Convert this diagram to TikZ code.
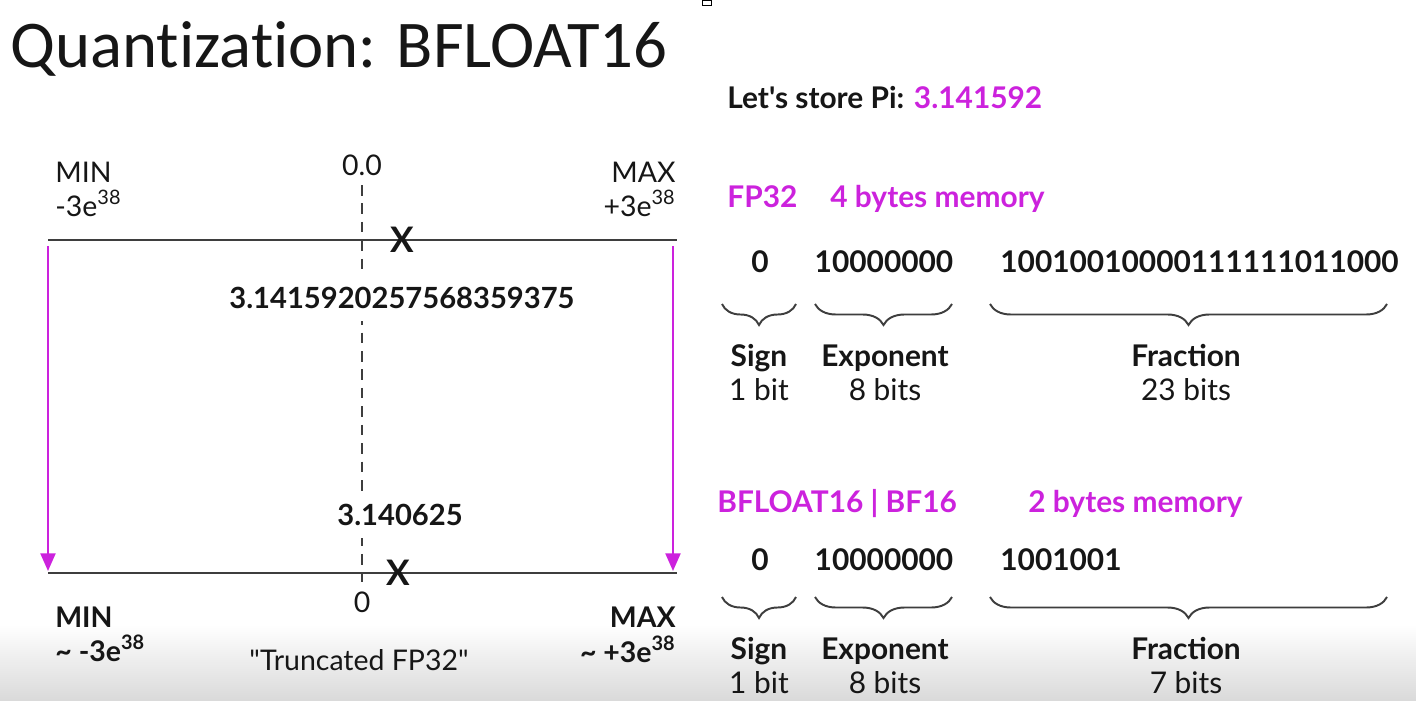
\documentclass[tikz,border=0pt]{standalone}
\usepackage{fontspec}
\setmainfont{Lato}
\newfontfamily\titlefont[Ligatures=NoCommon]{Carlito}
% same face, without the TeX quote mapping, for straight quotes
\newfontfamily\latoplain{Lato}
\usetikzlibrary{decorations.pathreplacing, arrows.meta}
\definecolor{accent}{RGB}{204,34,221}
\definecolor{axisgray}{RGB}{62,62,62}
\definecolor{ink}{RGB}{22,22,22}
\tikzset{
  txt/.style={inner sep=0pt, text=ink},
  lft/.style={txt, font=\fontsize{16.2}{19}\selectfont},
  lftb/.style={txt, font=\fontsize{16.2}{19}\selectfont\bfseries},
  rgt/.style={txt, font=\fontsize{17}{20}\selectfont},
  rgtb/.style={txt, font=\fontsize{17}{20}\selectfont\bfseries},
  hdr/.style={rgtb, text=accent},
  valbox/.style={txt, font=\fontsize{16.6}{19}\selectfont\bfseries, fill=white, inner xsep=2pt, inner ysep=7pt},
  cross/.style={txt, font=\fontsize{20}{23}\selectfont\bfseries},
  axisline/.style={line width=1.4pt, draw=axisgray},
  dropline/.style={line width=1.2pt, draw=accent, -{Triangle[length=10pt,width=8.5pt]}},
  zeroline/.style={line width=1.1pt, draw=axisgray, dash pattern=on 6pt off 4.5pt},
  bitbrace/.style={decorate, decoration={brace, mirror, amplitude=0.42cm}, line width=1.1pt, draw=axisgray},
}
\begin{document}
\begin{tikzpicture}[x=0.02cm, y=-0.02cm]
\useasboundingbox (0,0) rectangle (1416,700);
\fill[white] (0,0) rectangle (1416,700);
\shade[top color=white, bottom color={rgb,255:red,218;green,218;blue,218}] (0,624) rectangle (1416,700);
\draw[line width=0.5pt] (702,0) rectangle (711,5);

% title
\node[txt, anchor=base west, font=\titlefont\fontsize{38}{42}\selectfont] (title) at (10,67) {Quantization: BFLOAT16};

% ---------- number line (FP32 range) ----------
\coordinate (zt) at (362,185);
\coordinate (zb) at (362,582);
\draw[zeroline] (zt) -- (zb);

\coordinate (t0) at (48,240);
\coordinate (t1) at (677,240);
\coordinate (b0) at (48,573);
\coordinate (b1) at (677,573);
\draw[axisline] (t0) -- (t1);
\draw[axisline] (b0) -- (b1);

\coordinate (la) at (48,246);
\coordinate (lb) at (48,571);
\coordinate (ra) at (673,246);
\coordinate (rb) at (673,571);
\draw[dropline] (la) -- (lb);
\draw[dropline] (ra) -- (rb);

\node[lft, anchor=base west] (minT) at (55,182) {MIN};
\node[lft, anchor=base west] (minTv) at (55,216) {-3e\textsuperscript{38}};
\node[lft, anchor=base] (zeroT) at (362,175) {0.0};
\node[lft, anchor=base east] (maxT) at (676,182) {MAX};
\node[lft, anchor=base east] (maxTv) at (676,216) {+3e\textsuperscript{38}};

\node[cross] (xT) at (402,240) {X};
\node[valbox, anchor=base] (fp32val) at (402,308) {3.1415920257568359375};

\node[valbox, anchor=base] (bf16val) at (400,525) {3.140625};
\node[cross] (xB) at (398,573) {X};

\node[lft, anchor=base] (zeroB) at (362,612) {0};
\node[lftb, anchor=base west] (minB) at (55,627) {MIN};
\node[lftb, anchor=base west] (minBv) at (55,661) {\textasciitilde{} -3e\textsuperscript{38}};
\node[lftb, anchor=base east] (maxB) at (676,627) {MAX};
\node[lftb, anchor=base east] (maxBv) at (676,662) {\textasciitilde{} +3e\textsuperscript{38}};
\node[lft, anchor=base] (trunc) at (359,670) {\latoplain "Truncated FP32"};

% ---------- bit layouts ----------
\node[rgtb, anchor=base west] (pi) at (727,108) {\latoplain\bfseries Let's store Pi: \textcolor{accent}{3.141592}};

% FP32
\node[hdr, anchor=base west] (fpname) at (727,207) {FP32};
\node[hdr, anchor=base west] (fpmem) at (830,207) {4 bytes memory};
\node[rgtb, anchor=base] (fpS) at (760,272) {0};
\node[rgtb, anchor=base] (fpE) at (884,272) {10000000};
\node[rgtb, anchor=base west] (fpF) at (1000,272) {10010010000111111011000};
\draw[bitbrace] (722,304) -- (796,304);
\draw[bitbrace] (815,304) -- (952,304);
\draw[bitbrace] (990,304) -- (1387,304);
\node[rgtb, anchor=base] (fpSl) at (759,366) {Sign};
\node[rgt, anchor=base] (fpSn) at (759,400) {1 bit};
\node[rgtb, anchor=base] (fpEl) at (885,366) {Exponent};
\node[rgt, anchor=base] (fpEn) at (885,400) {8 bits};
\node[rgtb, anchor=base] (fpFl) at (1186,366) {Fraction};
\node[rgt, anchor=base] (fpFn) at (1186,400) {23 bits};

% BF16
\node[hdr, anchor=base west] (bfname) at (717,512) {BFLOAT16 | BF16};
\node[hdr, anchor=base west] (bfmem) at (1028,512) {2 bytes memory};
\node[rgtb, anchor=base] (bfS) at (760,570) {0};
\node[rgtb, anchor=base] (bfE) at (884,570) {10000000};
\node[rgtb, anchor=base west] (bfF) at (1000,570) {1001001};
\draw[bitbrace] (722,597) -- (796,597);
\draw[bitbrace] (815,597) -- (952,597);
\draw[bitbrace] (990,597) -- (1387,597);
\node[rgtb, anchor=base] (bfSl) at (759,659) {Sign};
\node[rgt, anchor=base] (bfSn) at (759,693) {1 bit};
\node[rgtb, anchor=base] (bfEl) at (885,659) {Exponent};
\node[rgt, anchor=base] (bfEn) at (885,693) {8 bits};
\node[rgtb, anchor=base] (bfFl) at (1186,659) {Fraction};
\node[rgt, anchor=base] (bfFn) at (1186,693) {7 bits};
\end{tikzpicture}
\end{document}
